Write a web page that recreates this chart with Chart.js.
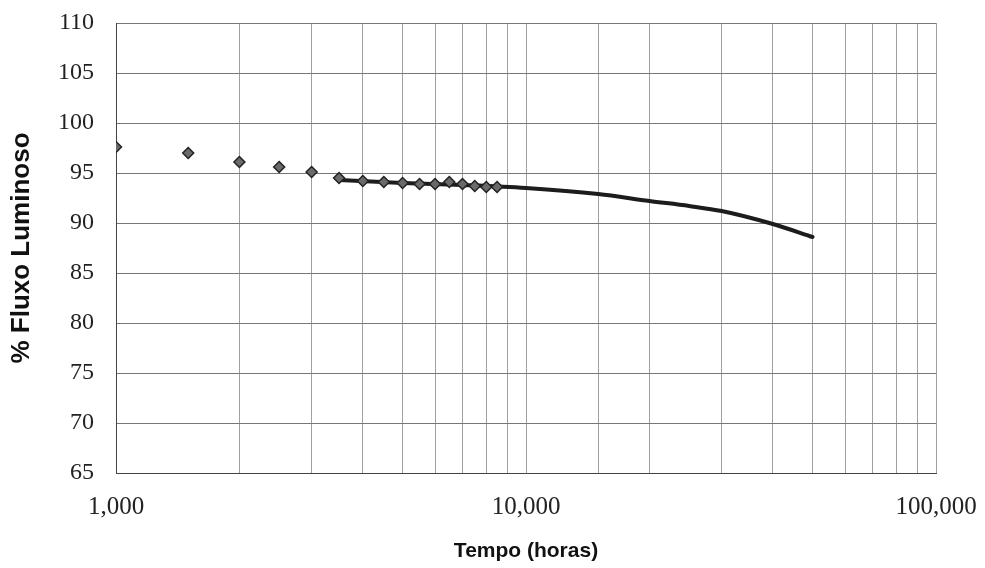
<!DOCTYPE html>
<html>
<head>
<meta charset="utf-8">
<script src="https://cdn.jsdelivr.net/npm/chart.js@4/dist/chart.umd.min.js"></script>
<style>
  html, body { margin: 0; padding: 0; background: #ffffff; }
  #wrap { width: 985px; height: 568px; }
</style>
</head>
<body>
<div id="wrap"><canvas id="c" width="985" height="568"></canvas></div>
<script>
// Measured points (hours, % luminous flux)
const hours = [1000, 1500, 2000, 2500, 3000, 3500, 4000, 4500, 5000, 5500, 6000, 6500, 7000, 7500, 8000, 8500];
const flux  = [97.6, 97.0, 96.1, 95.6, 95.1, 94.5, 94.2, 94.1, 94.0, 93.9, 93.9, 94.1, 93.9, 93.7, 93.6, 93.6];

// Fitted trend curve
const fitHours = [3500, 5000, 7000, 10000, 15000, 20000, 25000, 30000, 40000, 50000];
const fitFlux  = [94.3, 94.0, 93.8, 93.5, 92.9, 92.2, 91.7, 91.2, 89.9, 88.6];

// Axis ranges / labels
const xMin = 1000, xMax = 100000;
const yMin = 65, yMax = 110, yStep = 5;
const xTitle = 'Tempo (horas)';
const yTitle = '% Fluxo Luminoso';

const measured = hours.map((h, i) => ({ x: h, y: flux[i] }));
const fitted = fitHours.map((h, i) => ({ x: h, y: fitFlux[i] }));

new Chart(document.getElementById('c'), {
  type: 'scatter',
  data: {
    datasets: [
      {
        label: 'Medido',
        data: measured,
        showLine: false,
        pointStyle: 'rectRot',
        pointRadius: 5.5,
        pointBackgroundColor: '#6a6a6a',
        pointBorderColor: '#222222',
        pointBorderWidth: 1.5,
        order: 1
      },
      {
        label: 'Tendência',
        data: fitted,
        showLine: true,
        pointRadius: 0,
        borderColor: '#1c1c1c',
        borderWidth: 4,
        borderCapStyle: 'round',
        cubicInterpolationMode: 'monotone',
        fill: false,
        order: 2
      }
    ]
  },
  options: {
    responsive: false,
    animation: false,
    events: [],
    layout: { padding: { top: 23, right: 49, left: 0, bottom: 0 } },
    plugins: {
      legend: { display: false },
      tooltip: { enabled: false }
    },
    scales: {
      x: {
        type: 'logarithmic',
        min: xMin,
        max: xMax,
        afterFit: s => { s.height = 95; s.paddingLeft = 0; s.paddingRight = 0; },
        border: { display: true, color: '#444', width: 1 },
        grid: {
          color: '#a0a0a0',
          lineWidth: 1,
          drawTicks: false
        },
        ticks: {
          autoSkip: false,
          maxRotation: 0,
          padding: 19,
          color: '#222',
          font: { family: 'Liberation Serif', size: 25 },
          callback: function (value) {
            const lg = Math.log10(value);
            if (Math.abs(lg - Math.round(lg)) < 1e-9) {
              return Number(value).toLocaleString('en-US');
            }
            return '';
          }
        },
        title: {
          display: true,
          text: xTitle,
          color: '#111',
          font: { family: 'Liberation Sans', size: 21, weight: 'bold' },
          padding: { top: 0, bottom: 4 }
        }
      },
      y: {
        type: 'linear',
        min: yMin,
        max: yMax,
        afterFit: s => { s.width = 116; s.paddingTop = 0; s.paddingBottom = 0; },
        border: { display: true, color: '#444', width: 1 },
        grid: {
          color: '#777',
          lineWidth: 1,
          drawTicks: false
        },
        ticks: {
          stepSize: yStep,
          padding: 22,
          color: '#222',
          font: { family: 'Liberation Serif', size: 24 }
        },
        title: {
          display: true,
          text: yTitle,
          color: '#111',
          font: { family: 'Liberation Sans', size: 26, weight: 'bold' },
          padding: { top: 6, bottom: 0 }
        }
      }
    }
  },
  plugins: [{
    id: 'bg',
    beforeDraw: (chart) => {
      const ctx = chart.ctx;
      ctx.save();
      ctx.fillStyle = '#ffffff';
      ctx.fillRect(0, 0, chart.width, chart.height);
      ctx.restore();
    }
  }]
});
</script>
</body>
</html>
